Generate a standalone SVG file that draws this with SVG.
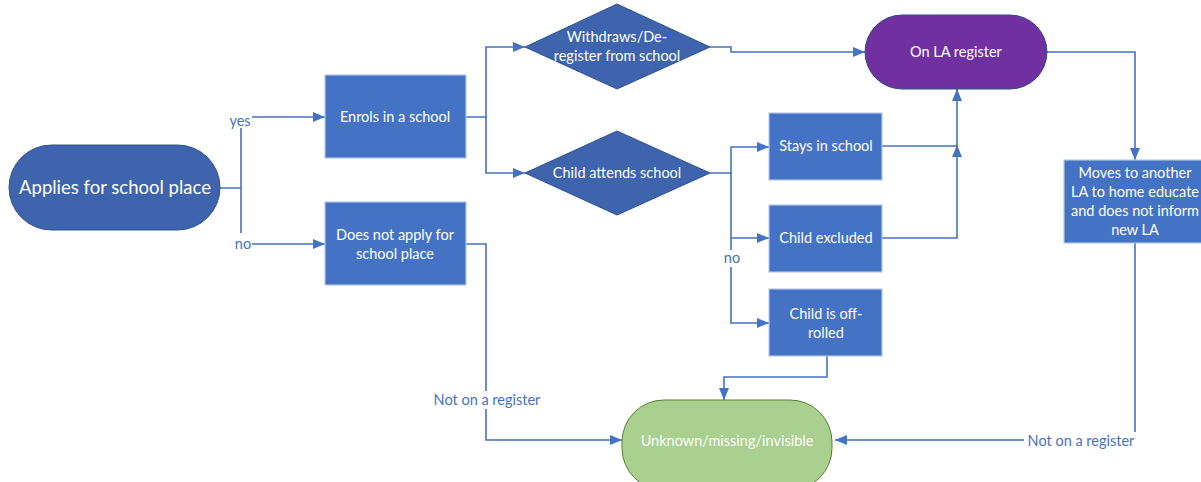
<svg xmlns="http://www.w3.org/2000/svg" width="1201" height="482" viewBox="0 0 1201 482">
<defs>
<marker id="ar" viewBox="0 0 12 10" refX="12" refY="5" markerWidth="12" markerHeight="10" markerUnits="userSpaceOnUse" orient="auto">
<path d="M0,0 L12,5 L0,10 Z" fill="#4472C4"/>
</marker>
<style>
.c{fill:none;stroke:#4472C4;stroke-width:1.6}
.box{fill:#4472C4;stroke:#B4C7E7;stroke-width:1.2}
.dia{fill:#3D64AD;stroke:#2F528F;stroke-width:1}
.t{font-family:Lato,"Open Sans",sans-serif;font-size:14.5px;fill:#fff;text-anchor:middle}
.l{font-family:Lato,"Open Sans",sans-serif;font-size:14.5px;fill:#4472C4;text-anchor:middle}
</style>
</defs>
<rect width="1201" height="482" fill="#fff"/>
<g id="connectors">
<path class="c" d="M220,188 H241 M241,128 V233"/>
<path class="c" d="M252,117 H325" marker-end="url(#ar)"/>
<path class="c" d="M252,244 H325" marker-end="url(#ar)"/>
<path class="c" d="M466,117 H486 V47 H525" marker-end="url(#ar)"/>
<path class="c" d="M486,117 V173 H525" marker-end="url(#ar)"/>
<path class="c" d="M710,47 H731 V52 H865" marker-end="url(#ar)"/>
<path class="c" d="M710,173 H731 V147 H769" marker-end="url(#ar)"/>
<path class="c" d="M731,173 V238 H769" marker-end="url(#ar)"/>
<path class="c" d="M731,238 V250 M731,267 V323 H769" marker-end="url(#ar)"/>
<path class="c" d="M882,146 H957 V89" marker-end="url(#ar)"/>
<path class="c" d="M882,238 H957 V145" marker-end="url(#ar)"/>
<path class="c" d="M1047,52 H1135 V160" marker-end="url(#ar)"/>
<path class="c" d="M1135,243 V440 H835" marker-end="url(#ar)"/>
<path class="c" d="M466,244 H486 V440 H622" marker-end="url(#ar)"/>
<path class="c" d="M827,356 V377 H724 V400" marker-end="url(#ar)"/>
<rect x="428" y="391" width="118" height="18" fill="#fff"/>
<rect x="1024" y="432" width="112" height="18" fill="#fff"/>
<rect x="230" y="111" width="22" height="16" fill="#fff"/>
<text class="l" x="240" y="126">yes</text>
<text class="l" x="243" y="249">no</text>
<text class="l" x="732" y="263">no</text>
<text class="l" x="487" y="405">Not on a register</text>
<text class="l" x="1081" y="446">Not on a register</text>
</g>
<g id="n-applies">
<rect x="9" y="145" width="211" height="85" rx="42.5" fill="#3D64AD" stroke="#2F528F" stroke-width="1"/>
<text class="t" x="115" y="194" style="font-size:18.5px">Applies for school place</text>
</g>
<g id="n-enrols">
<rect class="box" x="325" y="75" width="141" height="83"/>
<text class="t" x="395" y="122">Enrols in a school</text>
</g>
<g id="n-noapply">
<rect class="box" x="325" y="202" width="141" height="83"/>
<text class="t" x="395" y="240">Does not apply for</text>
<text class="t" x="395" y="259">school place</text>
</g>
<g id="n-withdraws">
<polygon class="dia" points="525,47 617,4 710,47 617,89"/>
<text class="t" x="617" y="42">Withdraws/De-</text>
<text class="t" x="617" y="61">register from school</text>
</g>
<g id="n-attends">
<polygon class="dia" points="525,173 617,131 710,173 617,215"/>
<text class="t" x="617" y="178">Child attends school</text>
</g>
<g id="n-stays">
<rect class="box" x="769" y="113" width="113" height="67"/>
<text class="t" x="826" y="151">Stays in school</text>
</g>
<g id="n-excluded">
<rect class="box" x="769" y="205" width="113" height="67"/>
<text class="t" x="826" y="243">Child excluded</text>
</g>
<g id="n-offrolled">
<rect class="box" x="769" y="289" width="113" height="67"/>
<text class="t" x="826" y="319">Child is off-</text>
<text class="t" x="826" y="338">rolled</text>
</g>
<g id="n-onla">
<rect x="865" y="15" width="182" height="74" rx="37" fill="#7030A0" stroke="#2F528F" stroke-width="1"/>
<text class="t" x="956" y="57">On LA register</text>
</g>
<g id="n-moves">
<rect class="box" x="1064" y="160" width="145" height="83"/>
<text class="t" x="1135" y="178">Moves to another</text>
<text class="t" x="1135" y="197">LA to home educate</text>
<text class="t" x="1135" y="216">and does not inform</text>
<text class="t" x="1135" y="235">new LA</text>
</g>
<g id="n-unknown">
<rect x="622" y="400" width="210" height="90" rx="42" fill="#A9D08E" stroke="#538135" stroke-width="1"/>
<text class="t" x="727" y="446">Unknown/missing/invisible</text>
</g>
</svg>
